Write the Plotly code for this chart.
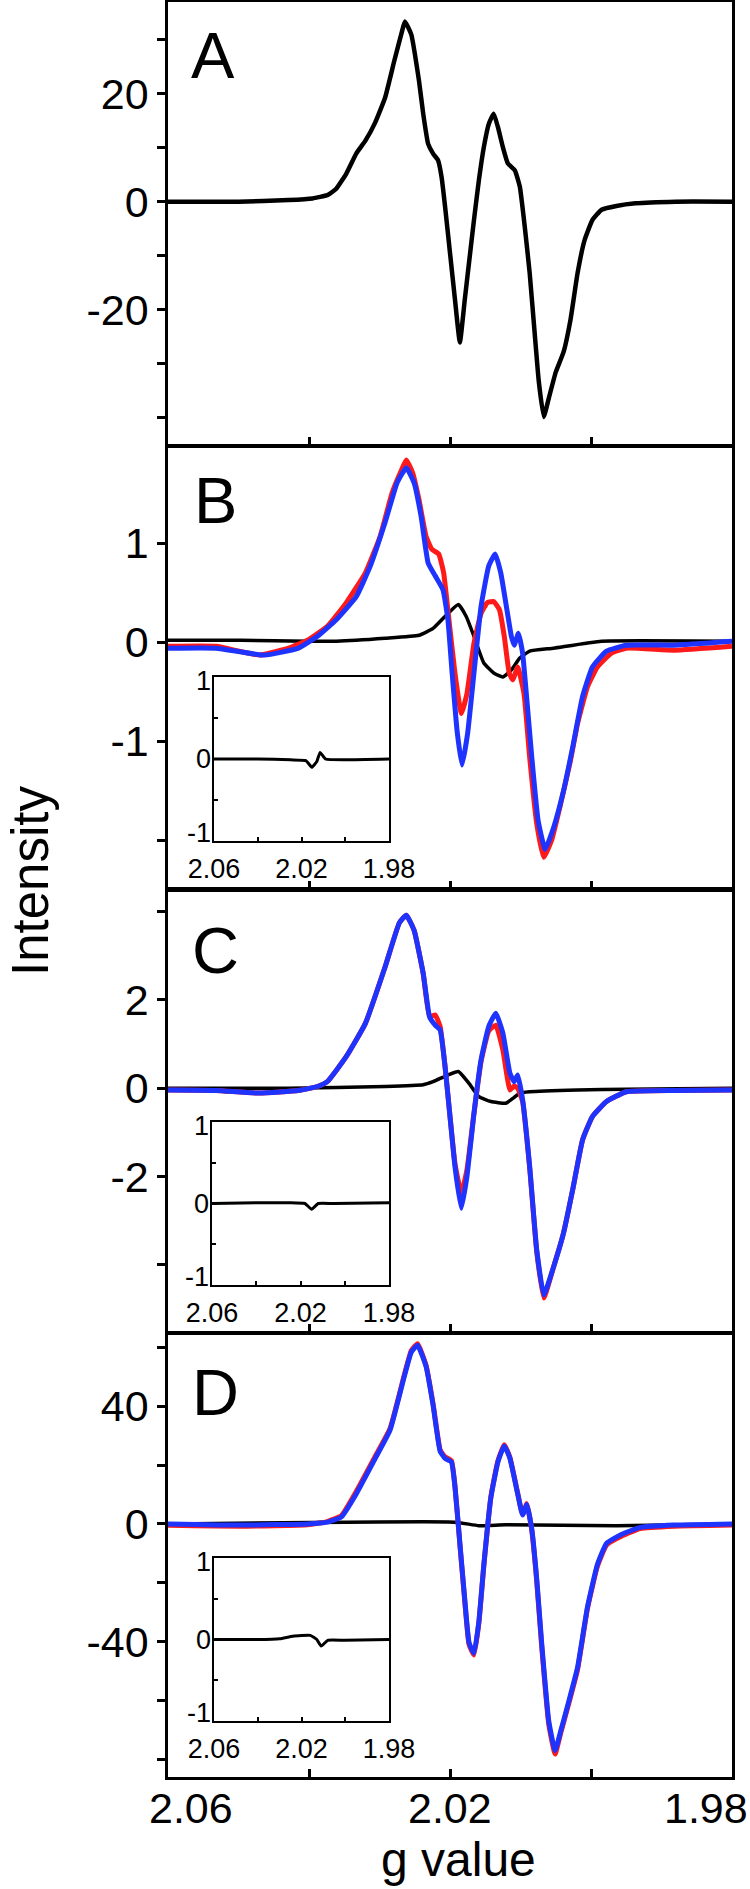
import plotly.graph_objects as go

# ---------------- data ----------------
# Panel A
a_g = [2.0600, 2.0500, 2.0429, 2.0395, 2.0374, 2.0368, 2.0361, 2.0347, 2.0333, 2.0320, 2.0306,
       2.0292, 2.0279, 2.0268, 2.0264, 2.0255, 2.0244, 2.0238, 2.0231, 2.0224, 2.0217, 2.0212,
       2.0207, 2.0200, 2.0193, 2.0186, 2.0179, 2.0173, 2.0166, 2.0159, 2.0152, 2.0145, 2.0138,
       2.0132, 2.0125, 2.0118, 2.0108, 2.0101, 2.0094, 2.0087, 2.0080, 2.0074, 2.0067, 2.0060,
       2.0050, 2.0039, 2.0029, 2.0019, 2.0009, 1.9998, 1.9985, 1.9964, 1.9937, 1.9880, 1.9800]
a_val = [0, 0, 0.3, 0.6, 1.2, 1.7, 2.45, 5.2, 8.9, 11.3, 14.7, 19.3, 26.1, 31.6, 33.4, 31, 22.4,
         16.3, 10.7, 8.9, 7.7, 4.6, -0.9, -9.5, -18.1, -26.1, -18.1, -11.3, -3.4, 4.0, 10.1, 14.4,
         16.3, 13.8, 10.1, 7.1, 5.8, 2.8, -4.6, -13.2, -24.2, -33.4, -39.9, -36.5, -31.6, -27.9,
         -21.8, -13.2, -7.1, -3.4, -1.5, -0.8, -0.3, 0, 0]

# Panel B
b_red_g = [2.0600, 2.0532, 2.0470, 2.0429, 2.0402, 2.0374, 2.0347, 2.0320, 2.0299, 2.0282, 2.0268,
           2.0262, 2.0253, 2.0244, 2.0234, 2.0226, 2.0216, 2.0209, 2.0202, 2.0193, 2.0184, 2.0176,
           2.0166, 2.0156, 2.0147, 2.0138, 2.0130, 2.0123, 2.0116, 2.0111, 2.0104, 2.0095, 2.0087,
           2.0077, 2.0067, 2.0056, 2.0043, 2.0029, 2.0019, 2.0005, 1.9991, 1.9971, 1.9950, 1.9882,
           1.9800]
b_red = [-0.04, -0.04, -0.13, -0.06, 0.02, 0.16, 0.40, 0.70, 1.07, 1.51, 1.75, 1.84, 1.71, 1.44,
         1.07, 0.94, 0.89, 0.70, 0.26, -0.31, -0.72, -0.52, -0.01, 0.29, 0.40, 0.41, 0.33, 0.06,
         -0.31, -0.38, -0.25, -0.52, -1.16, -1.83, -2.17, -2.00, -1.63, -1.19, -0.82, -0.45, -0.25,
         -0.11, -0.06, -0.08, -0.04]
b_blue_g = [2.0600, 2.0532, 2.0463, 2.0415, 2.0388, 2.0361, 2.0333, 2.0313, 2.0292, 2.0275, 2.0262,
            2.0251, 2.0241, 2.0231, 2.0221, 2.0210, 2.0203, 2.0197, 2.0190, 2.0183, 2.0175, 2.0166,
            2.0156, 2.0145, 2.0136, 2.0128, 2.0120, 2.0113, 2.0109, 2.0103, 2.0097, 2.0091, 2.0084,
            2.0075, 2.0065, 2.0053, 2.0039, 2.0026, 2.0012, 1.9998, 1.9978, 1.9950, 1.9882, 1.9800]
b_blue = [-0.06, -0.06, -0.13, -0.06, 0.06, 0.23, 0.46, 0.77, 1.21, 1.61, 1.76, 1.61, 1.27, 0.80,
          0.67, 0.53, 0.23, -0.31, -0.89, -1.24, -0.92, -0.31, 0.36, 0.77, 0.89, 0.70, 0.36, 0.06,
          -0.03, 0.09, -0.11, -0.58, -1.16, -1.80, -2.09, -1.87, -1.50, -1.06, -0.55, -0.25, -0.09,
          -0.03, -0.03, 0.01]
b_diff_g = [2.0600, 2.0497, 2.0402, 2.0361, 2.0292, 2.0244, 2.0224, 2.0203, 2.0188, 2.0177, 2.0166,
            2.0152, 2.0138, 2.0125, 2.0113, 2.0101, 2.0087, 2.0053, 1.9985, 1.9800]
b_diff = [0.02, 0.02, 0.01, 0.01, 0.04, 0.07, 0.14, 0.29, 0.38, 0.26, 0.06, -0.21, -0.31, -0.35,
          -0.28, -0.16, -0.09, -0.06, 0.01, 0.01]

# Panel C
c_g = [2.0600, 2.0532, 2.0470, 2.0415, 2.0388, 2.0374, 2.0347, 2.0320, 2.0292, 2.0272, 2.0262,
       2.0251, 2.0238, 2.0229, 2.0221, 2.0214, 2.0207, 2.0200, 2.0193, 2.0184, 2.0176, 2.0166,
       2.0156, 2.0145, 2.0135, 2.0125, 2.0115, 2.0109, 2.0104, 2.0097, 2.0087, 2.0077, 2.0067,
       2.0053, 2.0039, 2.0026, 2.0012, 1.9998, 1.9978, 1.9950, 1.9882, 1.9800]
c_blue = [-0.04, -0.05, -0.11, -0.05, 0.04, 0.15, 0.72, 1.47, 2.75, 3.74, 3.92, 3.58, 2.60, 1.62,
          1.43, 1.32, 0.49, -0.64, -1.77, -2.72, -2.00, -0.57, 0.64, 1.40, 1.70, 1.25, 0.34, 0.15,
          0.30, -0.26, -1.77, -3.66, -4.68, -4.04, -3.28, -2.30, -1.17, -0.64, -0.30, -0.08, -0.05,
          -0.04]
c_red = [-0.04, -0.05, -0.11, -0.05, 0.04, 0.15, 0.72, 1.47, 2.75, 3.74, 3.92, 3.58, 2.60, 1.62,
         1.66, 1.40, 0.49, -0.64, -1.70, -2.38, -1.85, -0.57, 0.60, 1.30, 1.43, 0.87, -0.04, 0.05,
         0.00, -0.30, -1.80, -3.70, -4.75, -4.04, -3.28, -2.30, -1.17, -0.64, -0.30, -0.08, -0.05,
         -0.04]
c_diff_g = [2.0600, 2.0429, 2.0292, 2.0238, 2.0224, 2.0203, 2.0188, 2.0173, 2.0159, 2.0142, 2.0121,
            2.0111, 2.0101, 2.0087, 2.0019, 1.9950, 1.9800]
c_diff = [0.0, 0.0, 0.04, 0.08, 0.15, 0.30, 0.38, 0.11, -0.19, -0.30, -0.34, -0.23, -0.11, -0.08,
          -0.04, -0.02, 0.0]

# Panel D
d_g = [2.0600, 2.0497, 2.0402, 2.0374, 2.0354, 2.0333, 2.0306, 2.0285, 2.0265, 2.0255, 2.0246,
       2.0234, 2.0224, 2.0214, 2.0207, 2.0198, 2.0193, 2.0186, 2.0179, 2.0173, 2.0166, 2.0159,
       2.0152, 2.0142, 2.0132, 2.0123, 2.0115, 2.0104, 2.0097, 2.0091, 2.0084, 2.0077, 2.0070,
       2.0060, 2.0051, 2.0043, 2.0032, 2.0019, 2.0005, 1.9991, 1.9978, 1.9957, 1.9930, 1.9882,
       1.9800]
d_blue = [0, -0.4, 0, 0.6, 2.4, 10.2, 22.3, 31.9, 50.0, 58.4, 60.8, 53.6, 40.4, 24.7, 22.3, 21.1,
          12.7, -6.6, -25.9, -40.4, -44.0, -33.1, -13.9, 9.0, 21.1, 26.5, 22.3, 10.2, 3.0, 6.6,
          -1.8, -18.7, -40.4, -66.9, -77.1, -70.5, -60.8, -48.8, -28.3, -13.9, -6.6, -3.6, -1.2,
          -0.4, 0]
d_red = [-0.5, -0.8, -0.3, 0.8, 2.8, 11.0, 23.0, 32.5, 50.5, 58.9, 61.3, 54.0, 40.8, 25.2, 22.8,
         21.5, 13.0, -6.9, -26.5, -41.0, -44.6, -33.5, -14.2, 9.2, 21.5, 26.9, 22.6, 10.5, 3.2, 6.9,
         -2.2, -19.5, -41.5, -68.0, -78.3, -71.2, -61.5, -49.5, -28.8, -14.5, -7.2, -4.2, -1.6,
         -0.8, -0.4]
d_diff_g = [2.0600, 2.0193, 2.0159, 2.0121, 1.9964, 1.9800]
d_diff = [0, 0.6, -0.6, -0.3, -0.6, 0]

# Insets (differences, expanded scale)
ib_g = [2.0600, 2.0400, 2.0250, 2.0180, 2.0153, 2.0130, 2.0115, 2.0090, 2.0000, 1.9800]
ib_val = [0.0, 0.0, -0.01, -0.02, -0.10, -0.03, 0.08, 0.0, -0.01, 0.0]
ic_g = [2.0600, 2.0400, 2.0250, 2.0180, 2.0150, 2.0120, 2.0050, 1.9800]
ic_val = [0.0, 0.01, 0.01, 0.0, -0.07, 0.0, 0.0, 0.01]
id_g = [2.0600, 2.0400, 2.0300, 2.0240, 2.0160, 2.0130, 2.0110, 2.0080, 2.0000, 1.9800]
id_val = [0.0, 0.0, 0.01, 0.04, 0.05, 0.0, -0.08, -0.01, -0.01, 0.0]

panel_labels = ["A", "B", "C", "D"]
main_xticks = [2.06, 2.04, 2.02, 2.00, 1.98]
main_xlabels = ["2.06", "2.02", "1.98"]
main_xlabel_vals = [2.06, 2.02, 1.98]
a_ticks = [-40, -30, -20, -10, 0, 10, 20, 30]
a_ticktext = ["", "", "-20", "", "0", "", "20", ""]
b_ticks = [-2, -1, 0, 1]
b_ticktext = ["", "-1", "0", "1"]
c_ticks = [-4, -2, 0, 2, 4]
c_ticktext = ["", "-2", "0", "2", ""]
d_ticks = [-80, -60, -40, -20, 0, 20, 40, 60]
d_ticktext = ["", "", "-40", "", "0", "", "40", ""]
inset_yticks = [-1, -0.5, 0, 0.5, 1]
inset_ylabel_vals = [1, 0, -1]
inset_ylabels = ["1", "0", "-1"]
inset_xticktext = ["2.06", "", "2.02", "", "1.98"]

# ---------------- styling / layout ----------------
W, H = 750, 1889
FONT = "Liberation Sans, Arial, Helvetica, sans-serif"
RED = "#ff1a1a"
BLUE = "#1f33ff"


def fx(p):
    return p / W


def fy(p):
    return 1 - p / H


fig = go.Figure()


def line(x, y, ax, color, width):
    fig.add_trace(go.Scatter(x=x, y=y, xaxis="x" + ax, yaxis="y" + ax, mode="lines",
                             line=dict(color=color, width=width, shape="spline", smoothing=0.4),
                             showlegend=False, hoverinfo="skip"))


line(a_g, a_val, "", "black", 4.5)
line(b_diff_g, b_diff, "2", "black", 3.5)
line(b_red_g, b_red, "2", RED, 5)
line(b_blue_g, b_blue, "2", BLUE, 5)
line(c_diff_g, c_diff, "3", "black", 3.5)
line(c_g, c_red, "3", RED, 5)
line(c_g, c_blue, "3", BLUE, 5)
line(d_diff_g, d_diff, "4", "black", 3.5)
line(d_g, d_red, "4", RED, 5)
line(d_g, d_blue, "4", BLUE, 5)
line(ib_g, ib_val, "5", "black", 3)
line(ic_g, ic_val, "6", "black", 3)
line(id_g, id_val, "7", "black", 3)

main_xdom = [fx(168), fx(732)]
panels = [  # (top px, bottom px, range, ticks, ticktext)
    (2, 445, [-45.1, 37.0], a_ticks, a_ticktext),
    (447, 889, [-2.49, 1.97], b_ticks, b_ticktext),
    (890, 1332, [-5.52, 4.49], c_ticks, c_ticktext),
    (1334, 1777, [-86.1, 64.6], d_ticks, d_ticktext),
]
insets = [  # (left, right, top, bottom) px
    (214, 389, 677, 841),
    (212, 389, 1122, 1285),
    (214, 389, 1558, 1721),
]

layout = dict(width=W, height=H, margin=dict(l=0, r=0, t=0, b=0, autoexpand=False),
              paper_bgcolor="white", plot_bgcolor="white", showlegend=False,
              font=dict(family=FONT, color="black"))

for i, (top, bot, rng, tv, tt) in enumerate(panels):
    suf = "" if i == 0 else str(i + 1)
    layout["xaxis" + suf] = dict(domain=main_xdom, range=[2.06, 1.98], anchor="y" + suf,
                                 showline=True, mirror=True, linecolor="black", linewidth=2.5,
                                 ticks="inside", ticklen=8, tickwidth=2.5, tickcolor="black",
                                 tickvals=main_xticks, showticklabels=False, automargin=False,
                                 showgrid=False, zeroline=False)
    layout["yaxis" + suf] = dict(domain=[fy(bot), fy(top)], range=rng, anchor="x" + suf,
                                 showline=True, mirror=True, linecolor="black", linewidth=2.5,
                                 ticks="outside", ticklen=8, tickwidth=2.5, tickcolor="black",
                                 tickvals=tv, ticktext=tt, tickfont=dict(size=43, family=FONT),
                                 automargin=False, showgrid=False, zeroline=False)

for j, (l, r, t, b) in enumerate(insets):
    suf = str(j + 5)
    layout["xaxis" + suf] = dict(domain=[fx(l), fx(r)], range=[2.06, 1.98], anchor="y" + suf,
                                 showline=True, mirror=True, linecolor="black", linewidth=1.8,
                                 ticks="inside", ticklen=4, tickwidth=1.5, tickcolor="black",
                                 tickvals=main_xticks, ticktext=inset_xticktext,
                                 tickfont=dict(size=27, family=FONT), ticklabelstandoff=3,
                                 automargin=False, showgrid=False, zeroline=False)
    layout["yaxis" + suf] = dict(domain=[fy(b), fy(t)], range=[-1, 1], anchor="x" + suf,
                                 showline=True, mirror=True, linecolor="black", linewidth=1.8,
                                 ticks="inside", ticklen=4, tickwidth=1.5, tickcolor="black",
                                 tickvals=inset_yticks, showticklabels=False,
                                 automargin=False, showgrid=False, zeroline=False)

fig.update_layout(**layout)

ann = []
label_pos = [(213, 55), (216, 501), (215, 950), (215, 1392)]
for lab, (x, y) in zip(panel_labels, label_pos):
    ann.append(dict(text=lab, x=fx(x), y=fy(y), xref="paper", yref="paper",
                    xanchor="center", yanchor="middle", showarrow=False,
                    font=dict(size=65, family=FONT, color="black")))
shifts = [23, 0, -26]
for lab, gv, s in zip(main_xlabels, main_xlabel_vals, shifts):
    ann.append(dict(text=lab, x=gv, y=fy(1808), xref="x4", yref="paper", xshift=s,
                    xanchor="center", yanchor="middle", showarrow=False,
                    font=dict(size=43, family=FONT, color="black")))
# inset y tick labels (end labels pulled slightly inward, as in the reference)
yshifts = [-4, 0, 8]
for j in range(3):
    suf = str(j + 5)
    for lab, v, s in zip(inset_ylabels, inset_ylabel_vals, yshifts):
        ann.append(dict(text=lab, x=2.06, y=v, xref="x" + suf, yref="y" + suf,
                        xanchor="right", yanchor="middle", xshift=-2, yshift=s,
                        showarrow=False, borderpad=0,
                        font=dict(size=27, family=FONT, color="black")))
ann.append(dict(text="g value", x=fx(458), y=fy(1859), xref="paper", yref="paper",
                xanchor="center", yanchor="middle", showarrow=False,
                font=dict(size=48, family=FONT, color="black")))
ann.append(dict(text="Intensity", x=fx(30), y=fy(881), xref="paper", yref="paper",
                xanchor="center", yanchor="middle", showarrow=False, textangle=-90,
                font=dict(size=51, family=FONT, color="black")))
fig.update_layout(annotations=ann)

# the page body's default 8 px margin would shift the figure; remove it
fig.write_html("out.html",
               config={"displayModeBar": False},
               post_script="document.body.style.margin='0px';"
                           "document.body.style.overflow='hidden';")
